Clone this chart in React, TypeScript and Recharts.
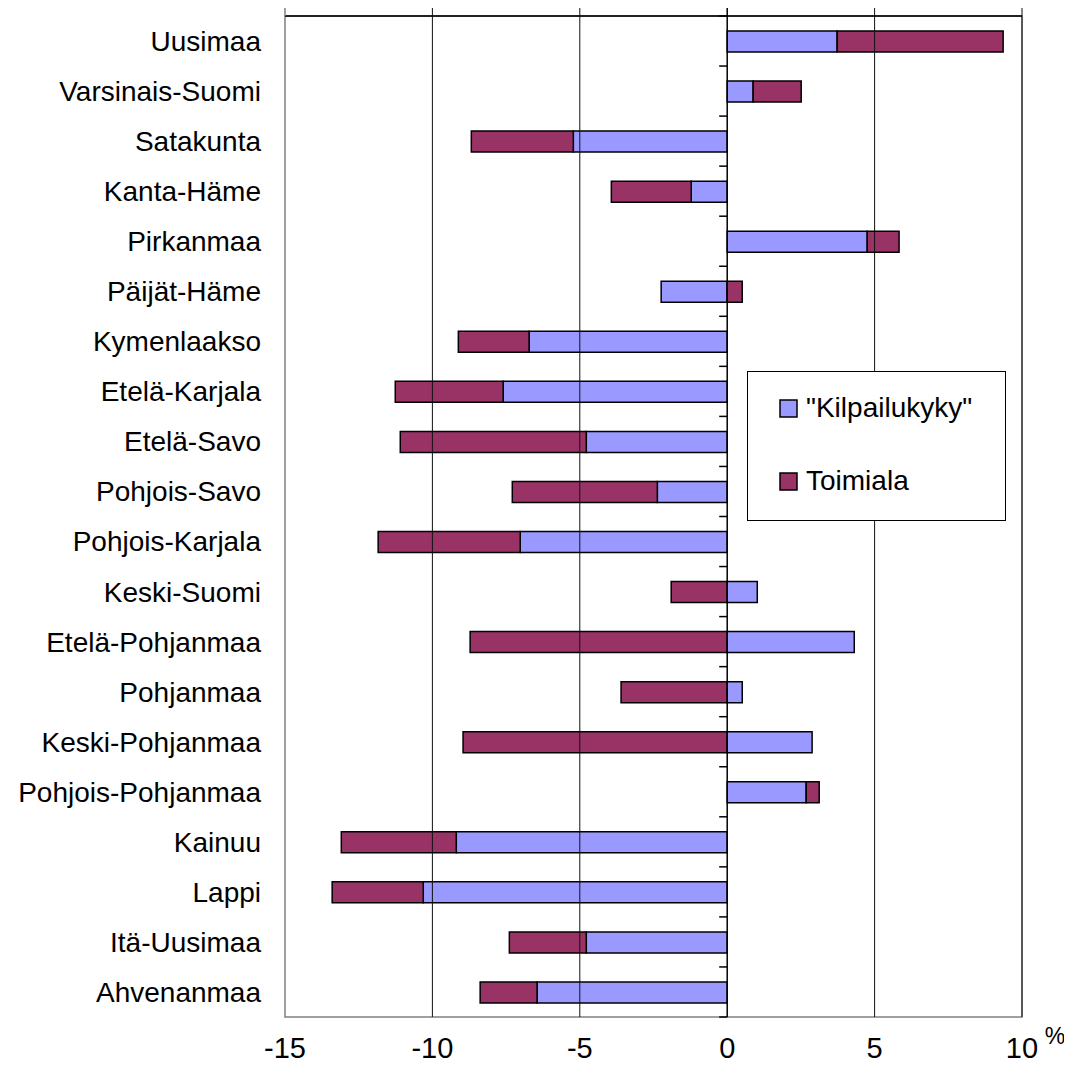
import React from "react";
import {
  Bar,
  BarChart,
  Legend,
  ReferenceArea,
  ReferenceLine,
  XAxis,
  YAxis,
} from "recharts";

const regions = [
  "Uusimaa",
  "Varsinais-Suomi",
  "Satakunta",
  "Kanta-Häme",
  "Pirkanmaa",
  "Päijät-Häme",
  "Kymenlaakso",
  "Etelä-Karjala",
  "Etelä-Savo",
  "Pohjois-Savo",
  "Pohjois-Karjala",
  "Keski-Suomi",
  "Etelä-Pohjanmaa",
  "Pohjanmaa",
  "Keski-Pohjanmaa",
  "Pohjois-Pohjanmaa",
  "Kainuu",
  "Lappi",
  "Itä-Uusimaa",
  "Ahvenanmaa",
];

// competitiveness component (closest to zero)
const kilpailukyky = [
  3.73, 0.88, -5.22, -1.22, 4.75, -2.24, -6.72, -7.6, -4.78, -2.37, -7.02,
  1.02, 4.31, 0.51, 2.88, 2.68, -9.19, -10.31, -4.78, -6.45,
];

// industry structure component
const toimiala = [
  5.63, 1.63, -3.46, -2.71, 1.08, 0.51, -2.4, -3.66, -6.31, -4.92, -4.82,
  -1.9, -8.72, -3.6, -8.96, 0.44, -3.9, -3.09, -2.61, -1.93,
];

const xTicks = [-15, -10, -5, 0, 5, 10];
const gridTicks = [-10, -5, 5, 10];

const data = regions.map((name, i) => ({
  name,
  kilpailukyky: kilpailukyky[i],
  toimiala: toimiala[i],
}));

const FONT = "'Liberation Sans', Arial, sans-serif";

// plot frame: grey box, dark top edge (value axis line)
const Frame = (props: any) => {
  const { x, y, width, height } = props;
  return (
    <g>
      <rect x={x} y={y} width={width} height={height} fill="none" stroke="#808080" strokeWidth={1.5} />
      <line x1={x} x2={x + width} y1={y} y2={y} stroke="#222" strokeWidth={2} />
      <line x1={x} x2={x} y1={y - 8} y2={y} stroke="#808080" strokeWidth={1.5} />
    </g>
  );
};

// vertical gridline with a tick poking above the plot
const GridLine = (props: any) => {
  const { x1, y1, y2 } = props;
  const top = Math.min(y1, y2);
  const bottom = Math.max(y1, y2);
  return <line x1={x1} x2={x1} y1={top - 8} y2={bottom} stroke="#111" strokeWidth={1} />;
};

// zero line with small tick marks between the categories
const ZeroAxis = (props: any) => {
  const { x1, y1, y2 } = props;
  const top = Math.min(y1, y2);
  const bottom = Math.max(y1, y2);
  const step = (bottom - top) / regions.length;
  const marks = [];
  for (let i = 0; i <= regions.length; i++) {
    const y = top + step * i;
    marks.push(
      <line key={i} x1={x1 - 8} x2={x1} y1={y} y2={y} stroke="#000" strokeWidth={1.5} />
    );
  }
  return (
    <g>
      <line x1={x1} x2={x1} y1={top - 8} y2={bottom} stroke="#000" strokeWidth={1.5} />
      {marks}
    </g>
  );
};

const BottomTick = (props: any) => {
  const { x, y, payload } = props;
  return (
    <g>
      <text x={x} y={y} textAnchor="middle" fontSize={29} fontFamily={FONT} fill="#000" dy={39}>
        {payload.value}
      </text>
      {payload.value === 10 && (
        <text x={x + 33} y={y} textAnchor="middle" fontSize={23} fontFamily={FONT} fill="#000" dy={25}>
          %
        </text>
      )}
    </g>
  );
};

const LegendBox = () => {
  const items = [
    { label: '"Kilpailukyky"', color: "#9999FF" },
    { label: "Toimiala", color: "#993366" },
  ];
  return (
    <svg width={260} height={151}>
      <rect x={0.5} y={0.5} width={258} height={149} fill="#fff" stroke="#000" />
      {items.map((it, i) => (
        <g key={it.label}>
          <rect x={33} y={29 + i * 73} width={17} height={17} fill={it.color} stroke="#000" strokeWidth={1.5} />
          <text x={59} y={46 + i * 73} fontSize={28} fontFamily={FONT} fill="#000">
            {it.label}
          </text>
        </g>
      ))}
    </svg>
  );
};

export default function App() {
  return (
    <div style={{ width: 1060, height: 1069, position: "relative" }}>
      <BarChart
        width={1060}
        height={1069}
        data={data}
        layout="vertical"
        stackOffset="sign"
        barSize={21}
        margin={{ top: 8, right: 46, left: 0, bottom: 10 }}
      >
        <XAxis
          type="number"
          domain={[-15, 10]}
          ticks={xTicks}
          height={50}
          axisLine={false}
          tickLine={false}
          tickSize={0}
          tick={<BottomTick />}
        />
        <YAxis
          type="category"
          dataKey="name"
          width={277}
          axisLine={false}
          tickLine={false}
          tickSize={0}
          tickMargin={24}
          interval={0}
          tick={{ fontSize: 28, fontFamily: FONT, fill: "#000" }}
        />
        <ReferenceArea x1={-15} x2={10} shape={<Frame />} ifOverflow="visible" />
        {gridTicks.map((v) => (
          <ReferenceLine key={v} x={v} shape={<GridLine />} ifOverflow="visible" />
        ))}
        <ReferenceLine x={0} shape={<ZeroAxis />} ifOverflow="visible" />
        <Bar
          dataKey="kilpailukyky"
          stackId="a"
          name='"Kilpailukyky"'
          fill="#9999FF"
          stroke="#000"
          strokeWidth={1.5}
          isAnimationActive={false}
        />
        <Bar
          dataKey="toimiala"
          stackId="a"
          name="Toimiala"
          fill="#993366"
          stroke="#000"
          strokeWidth={1.5}
          isAnimationActive={false}
        />
        <Legend
          layout="vertical"
          align="center"
          verticalAlign="middle"
          content={<LegendBox />}
          wrapperStyle={{ position: "absolute", left: 739, top: 363, width: 260, height: 151 }}
        />
      </BarChart>
    </div>
  );
}
